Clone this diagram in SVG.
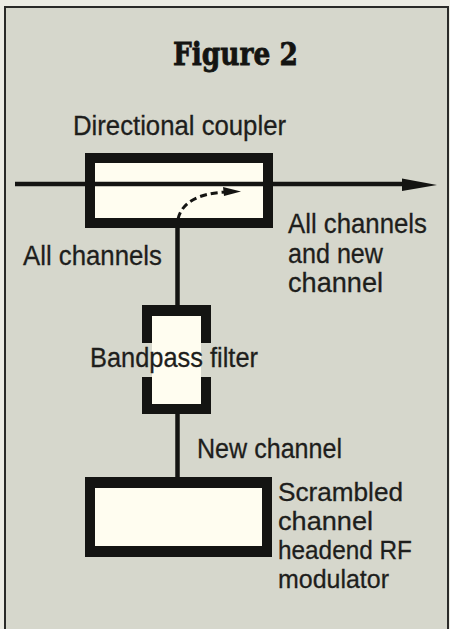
<svg xmlns="http://www.w3.org/2000/svg" width="450" height="629" viewBox="0 0 450 629">
<defs>
<style>
.lbl{font-family:"Liberation Sans",Arial,sans-serif;font-size:27.5px;fill:#1e1e1c;stroke:#1e1e1c;stroke-width:0.3}
.sm{font-size:26px}
.ttl{font-family:"DejaVu Serif","Liberation Serif",serif;font-weight:900;font-size:32px;fill:#141412;stroke:#141412;stroke-width:0.8}
.blk{fill:#141412}
.wht{fill:#fffdf0}
.wire{stroke:#141412;stroke-width:4.5;fill:none}
</style>
</defs>
<rect x="0" y="0" width="450" height="629" fill="#ecece4"/>
<rect x="5" y="7" width="443" height="640" fill="#d6d7cc" stroke="#2a2a28" stroke-width="2"/>
<text class="ttl" x="235.5" y="65" text-anchor="middle" textLength="125" lengthAdjust="spacingAndGlyphs">Figure 2</text>
<g id="connectors">
<line class="wire" x1="15" y1="184" x2="85" y2="184"/>
<line class="wire" x1="273" y1="184" x2="405" y2="184"/>
<polygon class="blk" points="402,178.5 437,185 402,191"/>
<line class="wire" x1="177.5" y1="228" x2="177.5" y2="305"/>
<line class="wire" x1="177.5" y1="413" x2="177.5" y2="477"/>
</g>
<g id="coupler">
<rect class="blk" x="85" y="153" width="188" height="75"/>
<rect class="wht" x="95" y="163" width="168" height="55"/>
<line class="wire" x1="85" y1="184" x2="273" y2="184"/>
<path d="M178,219 Q184,194 226,192" fill="none" stroke="#141412" stroke-width="3" stroke-dasharray="7,4"/>
<polygon class="blk" points="241,191.5 223,187 224,196"/>
</g>
<g id="filter">
<rect class="wht" x="152" y="316" width="49" height="89"/>
<polygon class="blk" points="142,305 211,305 211,343 201,343 201,316 152,316 152,343 142,343"/>
<polygon class="blk" points="142,377 152,377 152,404 201,404 201,377 211,377 211,414 142,414"/>
</g>
<g id="modulator">
<rect class="blk" x="85" y="477" width="187" height="80"/>
<rect class="wht" x="95" y="488" width="167" height="58"/>
</g>
<g id="labels">
<text class="lbl" x="73" y="135" textLength="213" lengthAdjust="spacingAndGlyphs">Directional coupler</text>
<text class="lbl" x="23" y="265" textLength="139" lengthAdjust="spacingAndGlyphs">All channels</text>
<text class="lbl" x="288" y="233" textLength="139" lengthAdjust="spacingAndGlyphs">All channels</text>
<text class="lbl" x="288" y="263" textLength="95" lengthAdjust="spacingAndGlyphs">and new</text>
<text class="lbl" x="288" y="292" textLength="95" lengthAdjust="spacingAndGlyphs">channel</text>
<text class="lbl" x="90" y="367" textLength="168" lengthAdjust="spacingAndGlyphs">Bandpass filter</text>
<text class="lbl" x="197" y="458" textLength="145" lengthAdjust="spacingAndGlyphs">New channel</text>
<text class="lbl sm" x="278" y="501" textLength="125" lengthAdjust="spacingAndGlyphs">Scrambled</text>
<text class="lbl sm" x="278" y="530" textLength="95" lengthAdjust="spacingAndGlyphs">channel</text>
<text class="lbl sm" x="278" y="559" textLength="134" lengthAdjust="spacingAndGlyphs">headend RF</text>
<text class="lbl sm" x="278" y="588" textLength="111" lengthAdjust="spacingAndGlyphs">modulator</text>
</g>
</svg>
